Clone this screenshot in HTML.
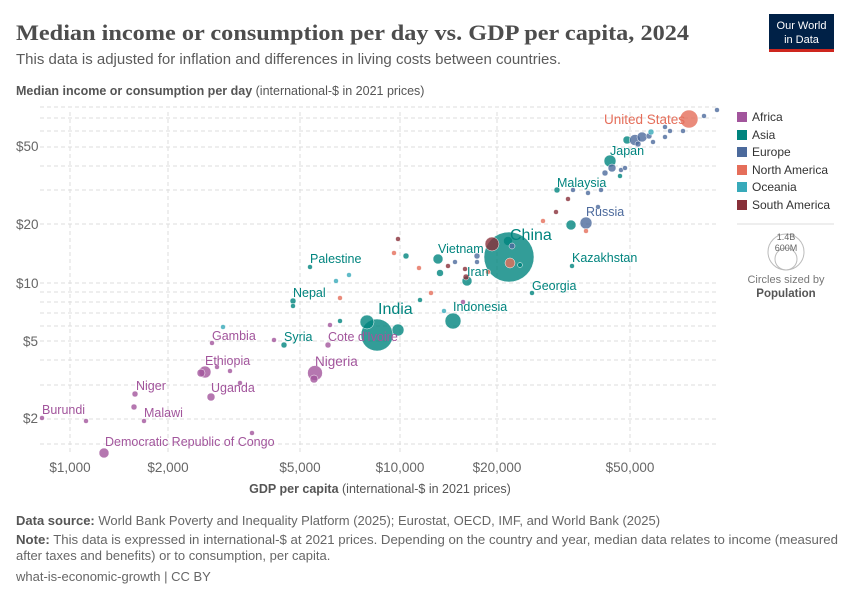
<!DOCTYPE html>
<html><head><meta charset="utf-8"><style>
body{margin:0;background:#fff;font-family:"Liberation Sans",sans-serif;}
</style></head><body>
<svg width="850" height="600" xmlns="http://www.w3.org/2000/svg" font-family="Liberation Sans, sans-serif">
<rect width="850" height="600" fill="#fff"/>
<text x="16" y="40" font-family="Liberation Serif, serif" font-size="22.5" font-weight="bold" fill="#4d4d4d" textLength="673" lengthAdjust="spacingAndGlyphs">Median income or consumption per day vs. GDP per capita, 2024</text>
<text x="16" y="64" font-size="15" fill="#5b5b5b">This data is adjusted for inflation and differences in living costs between countries.</text>
<rect x="769" y="14" width="65" height="38" fill="#002147"/><rect x="769" y="49" width="65" height="3" fill="#ce261e"/>
<text x="801.5" y="29" font-size="11" fill="#fff" text-anchor="middle">Our World</text>
<text x="801.5" y="43" font-size="11" fill="#fff" text-anchor="middle">in Data</text>
<text x="16" y="95" font-size="12.5" fill="#555"><tspan font-weight="bold">Median income or consumption per day</tspan> (international-$ in 2021 prices)</text>
<g stroke="#ddd" stroke-dasharray="4,3" stroke-width="1">
<line x1="40" x2="718" y1="419" y2="419"/><line x1="40" x2="718" y1="385" y2="385"/><line x1="40" x2="718" y1="360" y2="360"/><line x1="40" x2="718" y1="341" y2="341"/><line x1="40" x2="718" y1="326" y2="326"/><line x1="40" x2="718" y1="313" y2="313"/><line x1="40" x2="718" y1="302" y2="302"/><line x1="40" x2="718" y1="292" y2="292"/><line x1="40" x2="718" y1="283" y2="283"/><line x1="40" x2="718" y1="224" y2="224"/><line x1="40" x2="718" y1="190" y2="190"/><line x1="40" x2="718" y1="166" y2="166"/><line x1="40" x2="718" y1="147" y2="147"/><line x1="40" x2="718" y1="131" y2="131"/><line x1="40" x2="718" y1="118" y2="118"/><line x1="40" x2="718" y1="107" y2="107"/><line x1="40" x2="718" y1="444" y2="444"/>
<line x1="70" x2="70" y1="112" y2="455"/><line x1="168" x2="168" y1="112" y2="455"/><line x1="300" x2="300" y1="112" y2="455"/><line x1="400" x2="400" y1="112" y2="455"/><line x1="497" x2="497" y1="112" y2="455"/><line x1="630" x2="630" y1="112" y2="455"/>
</g>
<g font-size="13.5" fill="#666">
<text x="16" y="151">$50</text><text x="16" y="229">$20</text><text x="16" y="288">$10</text><text x="23" y="346">$5</text><text x="23" y="423">$2</text>
<g text-anchor="middle"><text x="70" y="472">$1,000</text><text x="168" y="472">$2,000</text><text x="300" y="472">$5,000</text><text x="400" y="472">$10,000</text><text x="497" y="472">$20,000</text><text x="630" y="472">$50,000</text></g>
</g>
<text x="380" y="493" font-size="12.5" fill="#555" text-anchor="middle"><tspan font-weight="bold">GDP per capita</tspan> (international-$ in 2021 prices)</text>
<g fill-opacity="0.8" stroke="#fff" stroke-width="0.5">
<g fill="#a2559c">
<circle cx="42" cy="418" r="2.5"/><circle cx="86" cy="421" r="2.5"/><circle cx="134" cy="407" r="3"/><circle cx="135" cy="394" r="3"/><circle cx="144" cy="421" r="2.5"/><circle cx="104" cy="453" r="5"/><circle cx="252" cy="433" r="2.5"/><circle cx="211" cy="397" r="4"/><circle cx="205" cy="372" r="6"/><circle cx="201" cy="373" r="4"/><circle cx="217" cy="367" r="2.5"/><circle cx="230" cy="371" r="2.5"/><circle cx="240" cy="383" r="2.5"/><circle cx="212" cy="343" r="2.5"/><circle cx="274" cy="340" r="2.5"/><circle cx="315" cy="373" r="7.5"/><circle cx="314" cy="379" r="4"/><circle cx="328" cy="345" r="3"/><circle cx="330" cy="325" r="2.5"/><circle cx="463" cy="302" r="2.5"/>
</g>
<g fill="#00847e">
<circle cx="284" cy="345" r="3"/><circle cx="293" cy="301" r="3"/><circle cx="293" cy="306" r="2.5"/><circle cx="310" cy="267" r="2.5"/><circle cx="340" cy="321" r="2.5"/><circle cx="377" cy="335" r="16"/><circle cx="367" cy="322" r="7"/><circle cx="398" cy="330" r="6"/><circle cx="406" cy="256" r="3"/><circle cx="420" cy="300" r="2.5"/><circle cx="453" cy="321" r="8"/><circle cx="438" cy="259" r="5"/><circle cx="440" cy="273" r="3.5"/><circle cx="467" cy="281" r="5"/><circle cx="508" cy="241" r="4.5"/><circle cx="509" cy="257" r="25"/><circle cx="520" cy="265" r="2.5"/><circle cx="532" cy="293" r="2.5"/><circle cx="571" cy="225" r="5"/><circle cx="572" cy="266" r="2.5"/><circle cx="557" cy="190" r="3"/><circle cx="610" cy="161" r="6"/><circle cx="620" cy="176" r="2.5"/><circle cx="627" cy="140" r="4"/>
</g>
<g fill="#4c6a9c">
<circle cx="477" cy="262" r="2.5"/><circle cx="455" cy="262" r="2.5"/><circle cx="477" cy="256" r="3"/><circle cx="512" cy="246" r="3"/><circle cx="586" cy="223" r="6"/><circle cx="573" cy="190" r="2.5"/><circle cx="588" cy="193" r="2.5"/><circle cx="601" cy="190" r="2.5"/><circle cx="598" cy="207" r="2.5"/><circle cx="605" cy="173" r="3"/><circle cx="612" cy="168" r="4"/><circle cx="621" cy="170" r="2.5"/><circle cx="625" cy="168" r="2.5"/><circle cx="635" cy="140" r="5.5"/><circle cx="642" cy="137" r="5"/><circle cx="638" cy="144" r="3"/><circle cx="649" cy="136" r="3"/><circle cx="653" cy="142" r="2.5"/><circle cx="665" cy="137" r="2.5"/><circle cx="670" cy="131" r="2.5"/><circle cx="683" cy="131" r="2.5"/><circle cx="704" cy="116" r="2.5"/><circle cx="717" cy="110" r="2.5"/><circle cx="665" cy="127" r="2.5"/>
</g>
<g fill="#e56e5a">
<circle cx="340" cy="298" r="2.5"/><circle cx="394" cy="253" r="2.5"/><circle cx="419" cy="268" r="2.5"/><circle cx="431" cy="293" r="2.5"/><circle cx="543" cy="221" r="2.5"/><circle cx="586" cy="231" r="2.5"/><circle cx="689" cy="119" r="9"/><circle cx="510" cy="263" r="5"/><circle cx="488" cy="272" r="2.5"/>
</g>
<g fill="#38aaba">
<circle cx="223" cy="327" r="2.5"/><circle cx="336" cy="281" r="2.5"/><circle cx="349" cy="275" r="2.5"/><circle cx="444" cy="311" r="2.5"/><circle cx="651" cy="132" r="3"/>
</g>
<g fill="#883039">
<circle cx="398" cy="239" r="2.5"/><circle cx="448" cy="266" r="2.5"/><circle cx="492" cy="244" r="7"/><circle cx="465" cy="269" r="2.5"/><circle cx="556" cy="212" r="2.5"/><circle cx="568" cy="199" r="2.5"/><circle cx="466" cy="277" r="3"/>
</g>
</g>
<g font-size="12.5" fill="#a2559c">
<text x="42" y="414">Burundi</text><text x="136" y="390">Niger</text><text x="144" y="417">Malawi</text><text x="105" y="446">Democratic Republic of Congo</text><text x="212" y="340">Gambia</text><text x="205" y="365">Ethiopia</text><text x="211" y="392">Uganda</text><text x="328" y="341">Cote d'Ivoire</text><text x="315" y="366" font-size="13.5">Nigeria</text>
</g>
<g font-size="12.5" fill="#00847e">
<text x="310" y="263">Palestine</text><text x="293" y="297">Nepal</text><text x="284" y="341">Syria</text><text x="378" y="314" font-size="16">India</text><text x="453" y="311">Indonesia</text><text x="438" y="253">Vietnam</text><text x="467" y="276">Iran</text><text x="510" y="240" font-size="16">China</text><text x="532" y="290">Georgia</text><text x="572" y="262">Kazakhstan</text><text x="557" y="187">Malaysia</text><text x="610" y="155">Japan</text>
</g>
<text x="586" y="216" font-size="12.5" fill="#4c6a9c">Russia</text>
<text x="604" y="124" font-size="13.5" fill="#e56e5a">United States</text>
<g font-size="12" fill="#333">
<rect x="737" y="112" width="10" height="10" fill="#a2559c"/><text x="752" y="121">Africa</text>
<rect x="737" y="130" width="10" height="10" fill="#00847e"/><text x="752" y="139">Asia</text>
<rect x="737" y="147" width="10" height="10" fill="#4c6a9c"/><text x="752" y="156">Europe</text>
<rect x="737" y="165" width="10" height="10" fill="#e56e5a"/><text x="752" y="174">North America</text>
<rect x="737" y="182" width="10" height="10" fill="#38aaba"/><text x="752" y="191">Oceania</text>
<rect x="737" y="200" width="10" height="10" fill="#883039"/><text x="752" y="209">South America</text>
</g>
<line x1="737" x2="834" y1="224" y2="224" stroke="#ddd"/>
<circle cx="786" cy="252" r="18" fill="none" stroke="#bbb"/><circle cx="786" cy="259" r="11" fill="none" stroke="#bbb"/>
<text x="786" y="240" font-size="9" fill="#666" text-anchor="middle">1.4B</text>
<text x="786" y="251" font-size="9" fill="#666" text-anchor="middle">600M</text>
<text x="786" y="283" font-size="11" fill="#777" text-anchor="middle">Circles sized by</text>
<text x="786" y="297" font-size="11.5" fill="#555" font-weight="bold" text-anchor="middle">Population</text>
<g font-size="13" fill="#666">
<text x="16" y="525"><tspan font-weight="bold" fill="#555">Data source:</tspan> World Bank Poverty and Inequality Platform (2025); Eurostat, OECD, IMF, and World Bank (2025)</text>
<text x="16" y="544" textLength="822" lengthAdjust="spacingAndGlyphs"><tspan font-weight="bold" fill="#555">Note:</tspan> This data is expressed in international-$ at 2021 prices. Depending on the country and year, median data relates to income (measured</text>
<text x="16" y="560">after taxes and benefits) or to consumption, per capita.</text>
<text x="16" y="581">what-is-economic-growth | CC BY</text>
</g>
</svg>
</body></html>
